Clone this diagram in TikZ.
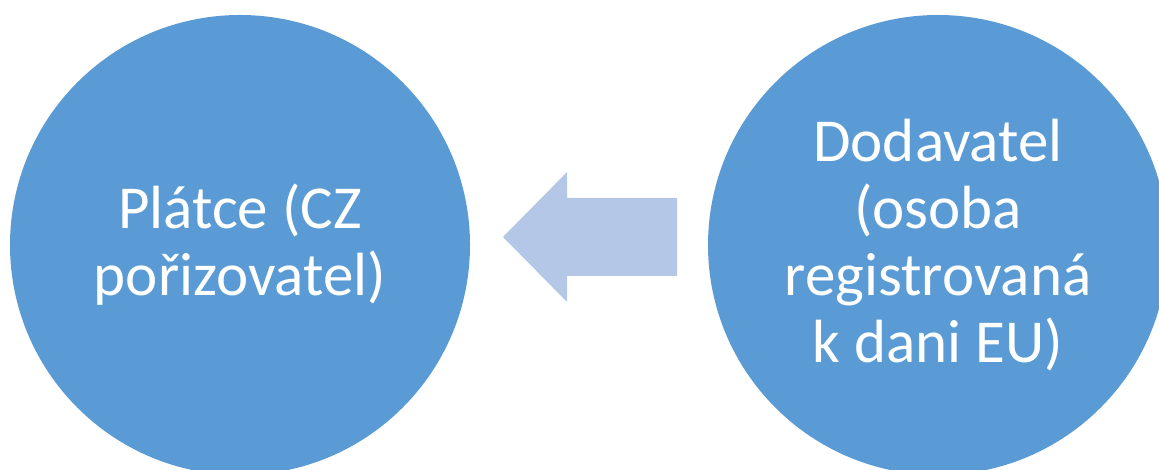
\documentclass[tikz,border=0pt]{standalone}
\usepackage{fontspec}
\setmainfont{Carlito}
\usepackage{xcolor}
\definecolor{circblue}{HTML}{5B9BD5}
\definecolor{arrowblue}{HTML}{B4C7E7}

\tikzset{
    party/.style={circle, fill=circblue, text=white, inner sep=0pt,
        minimum size=230pt, align=center,
        font=\fontsize{30.5}{33.5}\selectfont}
}

\begin{document}
\begin{tikzpicture}[x=0.5pt, y=0.5pt]
    \useasboundingbox (0,0) rectangle (1159,470);
    \clip (0,0) rectangle (1159,470);
% Buyer and supplier
    \node[party] (buyer) at (240,225) {Plátce (CZ\\pořizovatel)};
    \node[party] (supplier) at (938,225) {Dodavatel\\(osoba\\registrovaná\\k dani EU)};
% Block arrow pointing to the buyer
    \fill[arrowblue] (677,272) -- (567,272) -- (567,298) -- (503,233)
        -- (567,168) -- (567,194) -- (677,194) -- cycle;
\end{tikzpicture}
\end{document}
